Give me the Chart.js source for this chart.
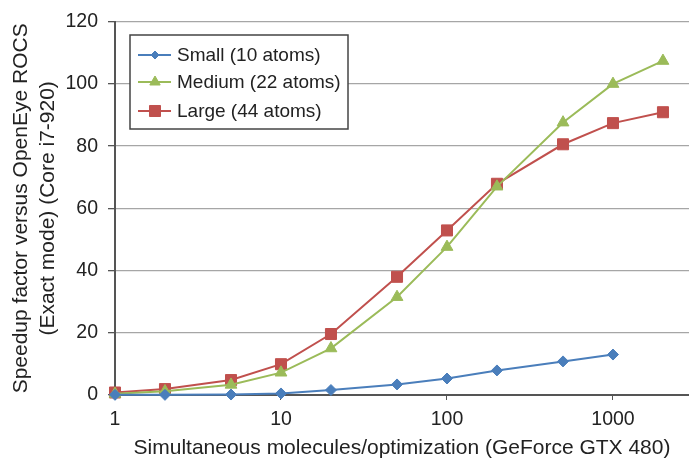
<!DOCTYPE html>
<html>
<head>
<meta charset="utf-8">
<script src="https://cdn.jsdelivr.net/npm/chart.js@4/dist/chart.umd.min.js"></script>
<style>
  html, body { margin: 0; padding: 0; background: #fff; }
  #wrap { width: 689px; height: 459px; }
</style>
</head>
<body>
<div id="wrap"><canvas id="speedupChart" width="689" height="459"></canvas></div>
<script>
var molecules = [1, 2, 5, 10, 20, 50, 100, 200, 500, 1000, 2000];
var smallSpeedup = [0.05, 0.05, 0.15, 0.5, 1.6, 3.4, 5.3, 7.9, 10.8, 13.0];
var mediumSpeedup = [0.4, 1.2, 3.3, 7.2, 15.0, 31.5, 47.6, 67.0, 87.6, 100.0, 107.4];
var largeSpeedup = [0.8, 1.9, 4.8, 9.9, 19.6, 38.0, 52.9, 67.9, 80.6, 87.4, 90.9];
var xTickValues = [1, 10, 100, 1000];
var seriesNames = ["Small (10 atoms)", "Medium (22 atoms)", "Large (44 atoms)"];

var FONT = "'Liberation Sans', Arial, sans-serif";

function toPoints(values) {
  return values.map(function (v, i) { return { x: molecules[i], y: v }; });
}

// legend drawn inside the plot, with a box round it
var boxLegend = {
  id: "boxLegend",
  afterDraw: function (chart) {
    var ctx = chart.ctx;
    var left = 130, top = 35, width = 218, height = 94;
    var rows = [55, 82, 111];
    ctx.save();
    ctx.fillStyle = "#fff";
    ctx.fillRect(left, top, width, height);
    ctx.strokeStyle = "#444";
    ctx.lineWidth = 1.5;
    ctx.strokeRect(left, top, width, height);
    chart.data.datasets.forEach(function (ds, i) {
      var y = rows[i];
      ctx.strokeStyle = ds.borderColor;
      ctx.fillStyle = ds.borderColor;
      ctx.lineWidth = 2;
      ctx.beginPath();
      ctx.moveTo(138, y);
      ctx.lineTo(171, y);
      ctx.stroke();
      ctx.lineWidth = 1;
      Chart.helpers.drawPoint(ctx, {
        pointStyle: ds.pointStyle,
        radius: ds.legendRadius,
        borderWidth: 1
      }, 155, y);
      ctx.fillStyle = "#222";
      ctx.font = "19px " + FONT;
      ctx.textBaseline = "middle";
      ctx.fillText(ds.label, 177, y + 1);
    });
    ctx.restore();
  }
};

function makeDataset(label, values, color, style, radius, legendRadius) {
  return {
    label: label,
    data: toPoints(values),
    borderColor: color,
    backgroundColor: color,
    pointBackgroundColor: color,
    pointBorderColor: color,
    pointStyle: style,
    pointRadius: radius,
    pointHoverRadius: radius,
    pointBorderWidth: 1,
    legendRadius: legendRadius,
    borderWidth: 2,
    tension: 0,
    clip: false
  };
}

new Chart(document.getElementById("speedupChart"), {
  type: "line",
  data: {
    datasets: [
      makeDataset(seriesNames[0], smallSpeedup, "#4a7ebb", "rectRot", 5.5, 4),
      makeDataset(seriesNames[1], mediumSpeedup, "#9bbb59", "triangle", 6.8, 6),
      makeDataset(seriesNames[2], largeSpeedup, "#c0504d", "rect", 7.8, 7.8)
    ]
  },
  options: {
    responsive: false,
    animation: false,
    layout: { autoPadding: false, padding: { top: 20, right: 0, bottom: 0, left: 0 } },
    plugins: { legend: { display: false }, tooltip: { enabled: false } },
    scales: {
      x: {
        type: "logarithmic",
        min: 1,
        max: 2870,
        afterBuildTicks: function (scale) {
          scale.ticks = xTickValues.map(function (v) { return { value: v, major: true }; });
        },
        afterFit: function (scale) {
          scale.height = 64;
          scale.paddingLeft = 0;
          scale.paddingRight = 0;
        },
        grid: { drawOnChartArea: false, color: "#555", tickLength: 5 },
        border: { color: "#555", width: 2 },
        ticks: {
          color: "#222",
          font: { family: FONT, size: 19.5 },
          padding: 8,
          maxRotation: 0,
          autoSkip: false,
          callback: function (v) { return String(v); }
        },
        title: {
          display: true,
          text: "Simultaneous molecules/optimization (GeForce GTX 480)",
          color: "#222",
          font: { family: FONT, size: 21 },
          padding: { top: 0, bottom: -2 }
        }
      },
      y: {
        min: 0,
        max: 120,
        afterFit: function (scale) { scale.width = 115; },
        grid: { color: "#a6a6a6", tickColor: "#555", tickLength: 7, lineWidth: 1.3 },
        border: { color: "#555", width: 2 },
        ticks: {
          stepSize: 20,
          color: "#222",
          font: { family: FONT, size: 19.5 },
          padding: 10
        },
        title: {
          display: true,
          text: ["Speedup factor versus OpenEye ROCS", "(Exact mode) (Core i7-920)"],
          color: "#222",
          font: { family: FONT, size: 21, lineHeight: 1.3 },
          padding: { top: 7.5, bottom: 0 }
        }
      }
    }
  },
  plugins: [boxLegend]
});
</script>
</body>
</html>
